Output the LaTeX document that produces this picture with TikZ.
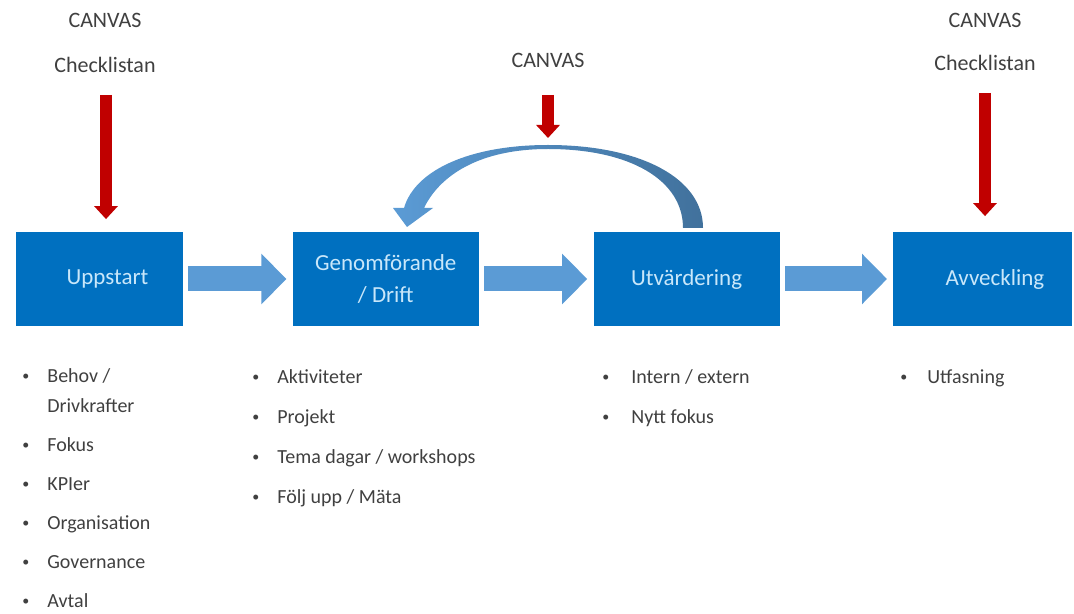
\documentclass[tikz,border=0pt]{standalone}
\usepackage{fontspec}
\setmainfont{Carlito}
\usetikzlibrary{positioning,arrows.meta}
\definecolor{phaseblue}{HTML}{0070C0}
\definecolor{phasetext}{HTML}{C9E7FA}
\definecolor{flowblue}{HTML}{5B9BD5}
\definecolor{loopdark}{HTML}{41719C}
\definecolor{canvasred}{HTML}{C00000}
\definecolor{labelgray}{HTML}{404040}
\newcommand{\dotmark}{\raisebox{0.6pt}{\fontsize{7}{7}\selectfont\textbullet}}

\begin{document}
\begin{tikzpicture}[x=0.5pt,y=-0.5pt,
	phase/.style = {rectangle, fill=phaseblue, text=phasetext, minimum width=93pt, minimum height=46.5pt, inner sep=0pt, align=center, font=\fontsize{11.5}{16}\selectfont},
	flow/.style = {draw=flowblue, line width=12.5pt, -{Triangle[width=24.5pt,length=12.5pt]}, shorten <=2.5pt, shorten >=3pt},
	canvas/.style = {draw=canvasred, line width=6pt, -{Triangle[width=11.5pt,length=6.5pt]}},
	heading/.style = {text=labelgray, font=\fontsize{11}{13}\selectfont},
	points/.style = {anchor=base west, inner sep=0pt, text=labelgray, font=\fontsize{10}{15}\selectfont}]

	\useasboundingbox (0,0) rectangle (1074,614);

	\node[phase, minimum width=83.5pt] (uppstart) at (99.5,279) {\hspace*{8pt}Uppstart};
	\node[phase, right=54.5pt of uppstart] (genomforande) {Genomförande\\/ Drift};
	\node[phase, right=57pt of genomforande] (utvardering) {Utvärdering};
	\node[phase, right=56.5pt of utvardering, minimum width=89.5pt] (avveckling) {\hspace*{12pt}Avveckling};

	\node[heading] (canvas1) at (105,20) {CANVAS};
	\node[heading] (check1) at (105,65) {Checklistan};
	\node[heading] (canvas2) at (548,60) {CANVAS};
	\node[heading] (canvas3) at (985,20) {CANVAS};
	\node[heading] (check3) at (985,63) {Checklistan};

	\draw[flow] (uppstart) -- (genomforande);
	\draw[flow] (genomforande) -- (utvardering);
	\draw[flow] (utvardering) -- (avveckling);

	% loop back from Utvardering
	\coordinate (peak) at (548,145);
	\shade[left color=flowblue, right color=loopdark] (703,228) .. controls (703,178) and (640,145) .. (peak)
		.. controls (470,145) and (415,170) .. (404,208) -- (393,208) -- (407,227) -- (433,208) -- (424,208)
		.. controls (440,175) and (480,149) .. (548,149) .. controls (630,149) and (683,180) .. (683,228) -- cycle;

	\coordinate (in1) at (106,95);
	\coordinate (in2) at (548,95);
	\coordinate (in3) at (985,93);
	\draw[canvas, shorten >=6.5pt] (in1) -- (in1 |- uppstart.north);
	\draw[canvas, shorten >=3.5pt] (in2) -- (peak);
	\draw[canvas, shorten >=8pt] (in3) -- (in3 |- avveckling.north);

	\node[points] (startlist) at (22,382) {\begin{tabular}[t]{@{}l@{\hspace{9pt}}l@{}}
		\dotmark & Behov /\\ & Drivkrafter\\[4.5pt]
		\dotmark & Fokus\\[4.5pt]
		\dotmark & KPIer\\[4.5pt]
		\dotmark & Organisation\\[4.5pt]
		\dotmark & Governance\\[4.5pt]
		\dotmark & Avtal
	\end{tabular}};
	\node[points] (driftlist) at (252,383) {\begin{tabular}[t]{@{}l@{\hspace{9pt}}l@{}}
		\dotmark & Aktiviteter\\[5pt]
		\dotmark & Projekt\\[5pt]
		\dotmark & Tema dagar / workshops\\[5pt]
		\dotmark & Följ upp / Mäta
	\end{tabular}};
	\node[points] (utvlist) at (602,383) {\begin{tabular}[t]{@{}l@{\hspace{11pt}}l@{}}
		\dotmark & Intern / extern\\[5pt]
		\dotmark & Nytt fokus
	\end{tabular}};
	\node[points] (avvlist) at (900,383) {\begin{tabular}[t]{@{}l@{\hspace{10pt}}l@{}}
		\dotmark & Utfasning
	\end{tabular}};

\end{tikzpicture}
\end{document}
